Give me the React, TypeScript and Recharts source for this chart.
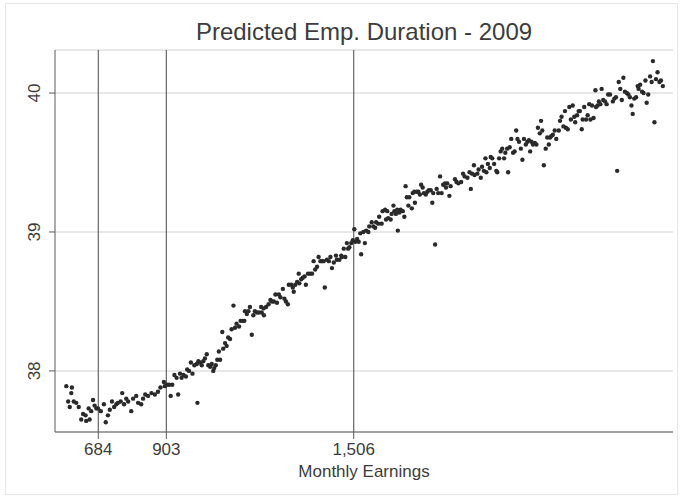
import React from 'react';
import { ScatterChart, Scatter, XAxis, YAxis, CartesianGrid, ReferenceLine } from 'recharts';

const FONT = '"Liberation Sans", Arial, Helvetica, sans-serif';
const TEXT = '#3c3c3c';
const AXIS = '#5a5a5a';

const title = 'Predicted Emp. Duration - 2009';
const xLabel = 'Monthly Earnings';
const xTicks = [684, 903, 1506];
const yTicks = [38, 39, 40];
const cutoffs = [684, 903, 1506];
const xDomain: [number, number] = [544.6, 2533.7];
const yDomain: [number, number] = [37.56, 40.31];

// [monthly earnings, predicted duration]
const band1: [number, number][] = [
  [581, 37.89], [599, 37.88], [597, 37.84], [587, 37.78], [605, 37.78], [613, 37.77], [592, 37.74], [621, 37.74],
  [635, 37.69], [629, 37.65], [643, 37.68], [645, 37.64], [656, 37.65], [653, 37.73], [667, 37.79], [661, 37.71],
  [672, 37.75], [678, 37.73], [683, 37.73], [692, 37.71], [702, 37.76], [715, 37.68], [708, 37.63], [721, 37.72],
  [728, 37.78], [735, 37.74], [742, 37.76], [747, 37.77], [761, 37.84], [767, 37.76], [756, 37.78], [774, 37.8],
  [780, 37.78], [790, 37.71], [796, 37.8], [806, 37.82], [812, 37.77], [822, 37.76], [828, 37.8], [835, 37.83],
  [844, 37.82], [855, 37.84], [866, 37.83], [876, 37.85], [884, 37.88], [895, 37.92], [898, 37.89], [905, 37.9],
];
const band2: [number, number][] = [
  [912, 37.9], [922, 37.9], [917, 37.82], [941, 37.83], [929, 37.97], [936, 37.95], [947, 37.98], [952, 37.95],
  [958, 37.97], [966, 37.96], [970, 38.01], [976, 38.0], [987, 37.98], [982, 38.06], [993, 38.04], [1001, 38.05],
  [1003, 37.77], [1006, 38.07], [1011, 38.06], [1017, 38.04], [1022, 38.07], [1027, 38.09], [1033, 38.12], [1038, 38.04],
  [1044, 38.03], [1049, 38.05], [1054, 38.0], [1057, 38.02], [1062, 38.04], [1067, 38.08], [1076, 38.08], [1072, 38.14],
  [1083, 38.28], [1086, 38.16], [1092, 38.2], [1097, 38.18], [1102, 38.24], [1108, 38.23], [1113, 38.3], [1119, 38.47],
  [1124, 38.31], [1129, 38.34], [1137, 38.32], [1142, 38.36], [1149, 38.36], [1154, 38.36], [1156, 38.43], [1162, 38.41],
  [1172, 38.46], [1167, 38.43], [1178, 38.26], [1183, 38.4], [1188, 38.43], [1194, 38.42], [1201, 38.42], [1208, 38.46],
  [1210, 38.42], [1217, 38.4],
];
const band3: [number, number][] = [
  [1216, 38.45], [1224, 38.46], [1232, 38.48], [1238, 38.51], [1243, 38.5], [1249, 38.5], [1254, 38.55], [1259, 38.49],
  [1265, 38.55], [1270, 38.53], [1278, 38.59], [1283, 38.52], [1288, 38.5], [1294, 38.48], [1297, 38.62], [1305, 38.62],
  [1310, 38.6], [1313, 38.57], [1318, 38.62], [1324, 38.64], [1329, 38.7], [1331, 38.63], [1337, 38.66], [1342, 38.67],
  [1348, 38.68], [1352, 38.62], [1359, 38.7], [1366, 38.7], [1372, 38.7], [1377, 38.79], [1382, 38.73], [1388, 38.75],
  [1393, 38.82], [1399, 38.79], [1404, 38.79], [1409, 38.79], [1413, 38.6], [1420, 38.8], [1426, 38.79], [1431, 38.82],
  [1436, 38.74], [1442, 38.78], [1449, 38.83], [1452, 38.8], [1460, 38.8], [1466, 38.83], [1468, 38.82], [1474, 38.88],
  [1479, 38.82], [1484, 38.92], [1488, 38.88], [1492, 38.89], [1498, 38.92], [1503, 38.94], [1508, 39.02], [1511, 38.93],
  [1517, 38.95], [1522, 38.93], [1527, 38.99], [1530, 38.84],
];
const band4: [number, number][] = [
  [1542, 38.92], [1537, 39.0], [1546, 39.01], [1553, 39.0], [1556, 39.04], [1564, 39.07], [1569, 39.04], [1575, 39.03],
  [1578, 39.07], [1585, 39.06], [1588, 39.11], [1596, 39.06], [1599, 39.15], [1607, 39.16], [1610, 39.09], [1614, 39.15],
  [1617, 39.1], [1625, 39.09], [1628, 39.13], [1634, 39.19], [1637, 39.15], [1642, 39.13], [1646, 39.16], [1648, 39.01],
  [1653, 39.14], [1657, 39.16], [1664, 39.15], [1669, 39.11], [1673, 39.33], [1677, 39.25], [1682, 39.19], [1685, 39.25],
  [1693, 39.17], [1696, 39.28], [1701, 39.29], [1703, 39.21], [1709, 39.29], [1714, 39.29], [1719, 39.27], [1723, 39.34],
  [1728, 39.32], [1732, 39.28], [1738, 39.27], [1743, 39.29], [1748, 39.3], [1754, 39.3], [1759, 39.21], [1762, 39.28],
  [1768, 38.91], [1773, 39.31], [1778, 39.28], [1784, 39.4], [1789, 39.28], [1794, 39.34], [1800, 39.35], [1803, 39.32],
  [1807, 39.35], [1814, 39.26], [1818, 39.33], [1832, 39.38], [1837, 39.36], [1843, 39.35],
];
const band5: [number, number][] = [
  [1852, 39.36], [1858, 39.42], [1863, 39.4], [1872, 39.39], [1879, 39.43], [1883, 39.31], [1887, 39.42], [1893, 39.48],
  [1895, 39.41], [1904, 39.42], [1908, 39.45], [1915, 39.39], [1919, 39.47], [1925, 39.44], [1930, 39.53], [1933, 39.43],
  [1938, 39.49], [1944, 39.46], [1947, 39.54], [1952, 39.53], [1958, 39.49], [1965, 39.44], [1968, 39.43], [1974, 39.53],
  [1979, 39.58], [1984, 39.6], [1990, 39.53], [1994, 39.57], [2000, 39.6], [2003, 39.43], [2008, 39.61], [2013, 39.67],
  [2019, 39.57], [2024, 39.58], [2029, 39.73], [2033, 39.67], [2038, 39.65], [2044, 39.6], [2049, 39.52], [2054, 39.67],
  [2060, 39.63], [2065, 39.65], [2070, 39.66], [2074, 39.58], [2078, 39.65], [2083, 39.63], [2089, 39.64], [2094, 39.63],
  [2099, 39.75], [2105, 39.71], [2109, 39.8], [2113, 39.73], [2118, 39.48], [2124, 39.6], [2129, 39.68], [2134, 39.63],
  [2138, 39.68], [2142, 39.69], [2147, 39.7], [2153, 39.73], [2158, 39.67],
];
const band6: [number, number][] = [
  [2166, 39.73], [2170, 39.8], [2175, 39.83], [2181, 39.76], [2186, 39.87], [2189, 39.75], [2195, 39.74], [2200, 39.9],
  [2205, 39.81], [2211, 39.91], [2216, 39.83], [2219, 39.79], [2225, 39.84], [2230, 39.87], [2234, 39.87], [2240, 39.74],
  [2243, 39.81], [2248, 39.9], [2254, 39.81], [2259, 39.84], [2264, 39.92], [2268, 39.81], [2273, 39.91], [2278, 39.82],
  [2284, 40.02], [2286, 39.9], [2291, 39.91], [2295, 39.94], [2300, 39.92], [2304, 40.03], [2309, 39.95], [2315, 39.94],
  [2320, 39.92], [2325, 39.99], [2331, 39.99], [2340, 39.94], [2345, 39.96], [2350, 39.97], [2354, 39.44], [2359, 40.08],
  [2364, 40.03], [2369, 39.95], [2374, 40.11], [2379, 40.01], [2385, 40.0], [2390, 39.99], [2395, 39.97], [2400, 39.91],
  [2404, 39.85], [2409, 39.96], [2415, 39.97], [2420, 40.05], [2423, 40.03], [2428, 40.06], [2434, 40.01], [2439, 40.0],
  [2445, 40.09], [2449, 39.93], [2454, 39.99], [2460, 40.12], [2465, 40.08], [2469, 40.23], [2474, 39.79], [2479, 40.1],
  [2484, 40.15], [2490, 40.08], [2495, 40.09], [2501, 40.05],
];

const points = [...band1, ...band2, ...band3, ...band4, ...band5, ...band6].map(([x, y]) => ({ x, y }));

const YTick = (props: any) => {
  const { x, y, payload } = props;
  return (
    <text
      x={x}
      y={y}
      transform={`rotate(-90 ${x} ${y})`}
      textAnchor="middle"
      fill={TEXT}
      fontSize={17}
      fontFamily={FONT}
    >
      {payload.value}
    </text>
  );
};

const Dot = (props: any) => <circle cx={props.cx} cy={props.cy} r={2.2} fill="#2a2a2a" />;

export default function App() {
  return (
    <div style={{ position: 'absolute', left: 0, top: 0, width: 683, height: 498, background: '#fff' }}>
      <ScatterChart width={683} height={498} margin={{ top: 50, right: 10, bottom: 0, left: 0 }}>
        <CartesianGrid horizontal vertical={false} stroke="#e0e0e0" strokeWidth={1.5} />
        <XAxis
          type="number"
          dataKey="x"
          domain={xDomain}
          ticks={xTicks}
          allowDataOverflow
          height={66}
          tickSize={7}
          tickMargin={4}
          stroke={AXIS}
          tickLine={{ stroke: AXIS }}
          axisLine={{ stroke: AXIS }}
          tick={{ fill: TEXT, fontSize: 17, fontFamily: FONT }}
          tickFormatter={(v: number) => v.toLocaleString('en-US')}
        />
        <YAxis
          type="number"
          dataKey="y"
          domain={yDomain}
          ticks={yTicks}
          allowDataOverflow
          width={55}
          tickSize={6}
          tickMargin={9}
          stroke={AXIS}
          tickLine={{ stroke: AXIS }}
          axisLine={{ stroke: AXIS }}
          tick={<YTick />}
        />
        {cutoffs.map((c) => (
          <ReferenceLine key={c} x={c} stroke="#666" strokeWidth={1.2} ifOverflow="extendDomain" />
        ))}
        <Scatter data={points} shape={<Dot />} isAnimationActive={false} />
      </ScatterChart>
      <svg width={683} height={498} style={{ position: 'absolute', left: 0, top: 0, pointerEvents: 'none' }}>
        <rect x={5.5} y={3.5} width={672} height={491} fill="none" stroke="#e6e6e6" strokeWidth={1} />
        <text x={364} y={40} textAnchor="middle" fontSize={24} fontFamily={FONT} fill={TEXT}>
          {title}
        </text>
        <text x={364} y={477} textAnchor="middle" fontSize={17} fontFamily={FONT} fill={TEXT}>
          {xLabel}
        </text>
      </svg>
    </div>
  );
}
